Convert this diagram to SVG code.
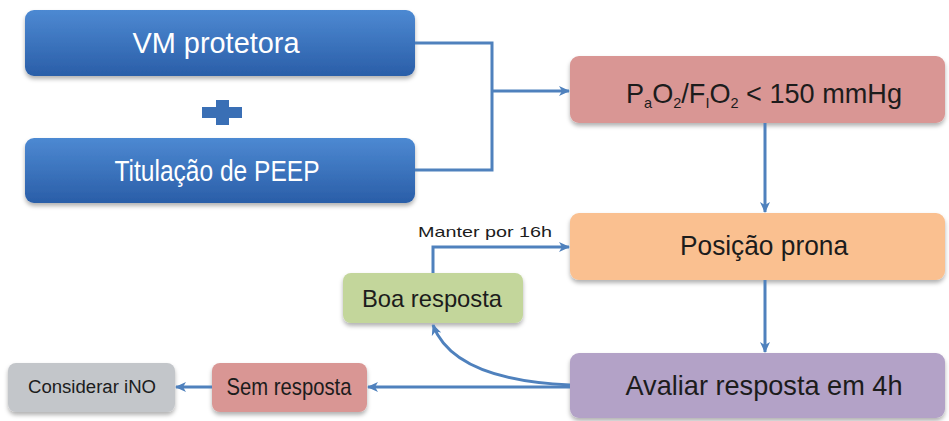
<svg xmlns="http://www.w3.org/2000/svg" width="949" height="421" viewBox="0 0 949 421">
<defs>
<linearGradient id="blueGrad" x1="0" y1="0" x2="0" y2="1">
<stop offset="0" stop-color="#4d89d2"/>
<stop offset="1" stop-color="#2a5ea8"/>
</linearGradient>
<filter id="shadow" x="-5%" y="-10%" width="110%" height="130%">
<feDropShadow dx="0" dy="3" stdDeviation="2" flood-color="#000" flood-opacity="0.3"/>
</filter>
<marker id="arrow" markerUnits="userSpaceOnUse" markerWidth="12" markerHeight="12" refX="10" refY="6" orient="auto">
<path d="M0,1 L11,6 L0,11 L3,6 Z" fill="#4f81bd"/>
</marker>
<style>
.box{filter:url(#shadow);}
.blue{fill:url(#blueGrad);}
.lbl{font-family:"Liberation Sans",Arial,sans-serif;fill:#1c1c1c;text-anchor:middle;}
.wlbl{font-family:"Liberation Sans",Arial,sans-serif;fill:#ffffff;text-anchor:middle;font-size:29px;}
.conn{fill:none;stroke:#4f81bd;stroke-width:3;}
</style>
</defs>
<rect width="949" height="421" fill="#ffffff"/>

<g id="vm">
<rect class="box blue" x="25" y="10" width="390" height="66" rx="9"/>
<text class="wlbl" x="216" y="53" textLength="167" lengthAdjust="spacingAndGlyphs">VM protetora</text>
</g>

<g id="plus">
<rect x="202" y="107" width="40" height="11" fill="#3a6fb5"/>
<rect x="216" y="100" width="13" height="25" fill="#3a6fb5"/>
</g>

<g id="titulacao">
<rect class="box blue" x="25" y="138" width="390" height="65" rx="9"/>
<text class="wlbl" x="217" y="181" textLength="205" lengthAdjust="spacingAndGlyphs">Titulação de PEEP</text>
</g>

<g id="pao2">
<rect class="box" x="570" y="56" width="375" height="67" rx="9" fill="#d99694"/>
<text font-family="Liberation Sans, Arial, sans-serif" font-size="28" fill="#1c1c1c" x="626" y="103" textLength="276" lengthAdjust="spacingAndGlyphs">P<tspan font-size="15" dy="5">a</tspan><tspan dy="-5">O</tspan><tspan font-size="15" dy="5">2</tspan><tspan dy="-5">/F</tspan><tspan font-size="15" dy="5">I</tspan><tspan dy="-5">O</tspan><tspan font-size="15" dy="5">2</tspan><tspan dy="-5"> &lt; 150 mmHg</tspan></text>
</g>

<g id="prona">
<rect class="box" x="570" y="213" width="375" height="67" rx="9" fill="#fac090"/>
<text class="lbl" x="764" y="255" font-size="28" textLength="168" lengthAdjust="spacingAndGlyphs">Posição prona</text>
</g>

<g id="avaliar">
<rect class="box" x="570" y="353" width="375" height="65" rx="9" fill="#b3a2c7"/>
<text class="lbl" x="764" y="395" font-size="28" textLength="277" lengthAdjust="spacingAndGlyphs">Avaliar resposta em 4h</text>
</g>

<g id="boa">
<rect class="box" x="343" y="273" width="180" height="50" rx="8" fill="#c3d69b"/>
<text class="lbl" x="432" y="307" font-size="24" textLength="140" lengthAdjust="spacingAndGlyphs">Boa resposta</text>
</g>

<g id="sem">
<rect class="box" x="212" y="363" width="155" height="49" rx="8" fill="#d99694"/>
<text class="lbl" x="289" y="395" font-size="24" textLength="125" lengthAdjust="spacingAndGlyphs">Sem resposta</text>
</g>

<g id="considerar">
<rect class="box" x="8" y="363" width="167" height="49" rx="8" fill="#c3c6ca"/>
<text class="lbl" x="92" y="393" font-size="18" textLength="128" lengthAdjust="spacingAndGlyphs">Considerar iNO</text>
</g>

<g id="connectors">
<path class="conn" d="M415 43 H492 V170 H415"/>
<path class="conn" d="M492 91 H569" marker-end="url(#arrow)"/>
<path class="conn" d="M765 123 V212" marker-end="url(#arrow)"/>
<path class="conn" d="M765 280 V352" marker-end="url(#arrow)"/>
<path class="conn" d="M570 387 H368" marker-end="url(#arrow)"/>
<path class="conn" d="M212 387 H176" marker-end="url(#arrow)"/>
<path class="conn" d="M433 273 V247 H569" marker-end="url(#arrow)"/>
<path class="conn" d="M570 385 C 500 382, 448 365, 433 325" marker-end="url(#arrow)"/>
<text class="lbl" x="485" y="237" font-size="15" textLength="134" lengthAdjust="spacingAndGlyphs">Manter por 16h</text>
</g>
</svg>
